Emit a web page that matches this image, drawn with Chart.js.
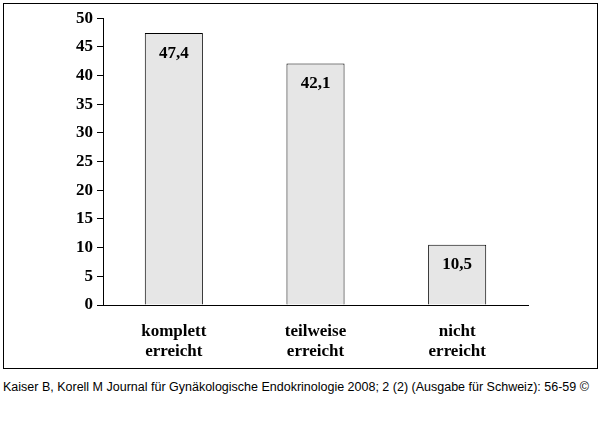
<!DOCTYPE html>
<html><head><meta charset="utf-8">
<script src="https://cdn.jsdelivr.net/npm/chart.js@4"></script>
<style>
body{margin:0;background:#fff;width:600px;height:436px;position:relative;font-family:"Liberation Sans",Arial,sans-serif}
#box{position:absolute;left:3px;top:3px;width:593px;height:364px;border:1px solid #000}
#cap{position:absolute;left:3px;top:380px;font-size:12.5px;color:#000}
</style></head><body>
<div id="box"><canvas id="c" width="593" height="364"></canvas></div>
<div id="cap">Kaiser B, Korell M Journal für Gynäkologische Endokrinologie 2008; 2 (2) (Ausgabe für Schweiz): 56-59 ©</div>
<script>
const categories = [['komplett','erreicht'],['teilweise','erreicht'],['nicht','erreicht']];
const values = [47.4, 42.1, 10.5];
const valueLabels = ['47,4','42,1','10,5'];
const yTicks = [0,5,10,15,20,25,30,35,40,45,50];

const serif = {family:'"Liberation Serif","Times New Roman",serif', size:17, weight:'bold'};

const valuePlugin = {
  id:'vals',
  afterDatasetsDraw(chart){
    const ctx = chart.ctx, meta = chart.getDatasetMeta(0);
    ctx.save();
    ctx.font = 'bold 17px "Liberation Serif",serif';
    ctx.fillStyle = '#000'; ctx.textAlign = 'center'; ctx.textBaseline = 'middle';
    meta.data.forEach((bar,i)=> ctx.fillText(valueLabels[i], bar.x, bar.y + 20));
    ctx.restore();
  }
};

new Chart(document.getElementById('c'), {
  type:'bar',
  data:{labels:categories, datasets:[{data:values, backgroundColor:'#e6e6e6', borderColor:'#000', borderWidth:1, barPercentage:0.41, categoryPercentage:1}]},
  options:{
    responsive:false, animation:false,
    layout:{padding:{left:0,right:69,top:14,bottom:0}},
    plugins:{legend:{display:false}, tooltip:{enabled:false}},
    scales:{
      y:{min:0,max:50,
        afterBuildTicks(s){ s.ticks = yTicks.map(v=>({value:v})); },
        afterFit(s){ s.width = 99; },
        grid:{drawOnChartArea:false, tickLength:6, color:'#000'},
        border:{color:'#000'},
        ticks:{color:'#000', font:serif, padding:4}},
      x:{
        afterFit(s){ s.height = 63; },
        grid:{display:false},
        border:{color:'#000'},
        ticks:{color:'#000', font:serif, padding:8}}
    }
  },
  plugins:[valuePlugin]
});
</script></body></html>
